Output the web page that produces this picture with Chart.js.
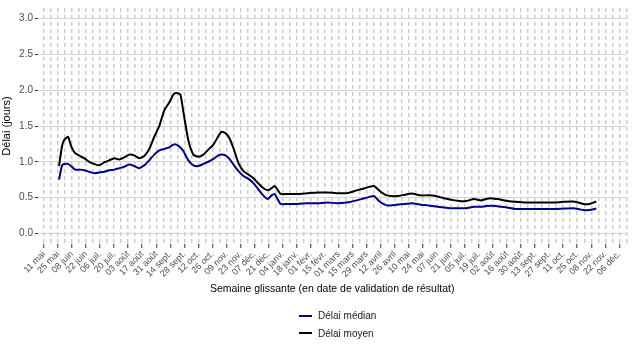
<!DOCTYPE html>
<html lang="fr">
<head>
<meta charset="utf-8">
<script src="https://cdn.jsdelivr.net/npm/chart.js@4.4.0/dist/chart.umd.min.js"></script>
<style>
  html, body { margin: 0; padding: 0; background: #fff; }
  #wrap { position: relative; width: 635px; height: 353px; }
  #legend { position: absolute; left: 299px; top: 307px; font: 10px "Liberation Sans", Arial, sans-serif; color: #1a1a1a; }
  .item { display: flex; align-items: center; height: 17.6px; }
  .swatch { width: 13px; height: 2px; margin-right: 6px; }
</style>
</head>
<body>
<div id="wrap">
  <canvas id="chart" width="635" height="353"></canvas>
  <div id="legend">
    <div class="item"><span class="swatch" style="background:#00008b"></span>Délai médian</div>
    <div class="item"><span class="swatch" style="background:#000"></span>Délai moyen</div>
  </div>
</div>
<script>
// jours depuis le 11 mai 2020
const days = [15, 18, 20, 24, 27, 31, 36, 40, 45, 50, 55, 60, 65, 70, 75, 80, 85, 90, 95, 100,
  105, 110, 115, 120, 125, 129, 132, 136, 139, 144, 149, 154, 159, 164, 169, 174, 177, 181, 185, 189,
  194, 199, 204, 209, 213, 218, 223, 227, 230, 233, 236, 243, 253, 263, 273, 283, 292, 302, 312, 320,
  329, 335, 342, 352, 360, 367, 372, 376, 383, 391, 399, 406, 414, 421, 429, 436, 441, 446, 451, 456,
  462, 470, 480, 490, 500, 510, 520, 528, 533, 538, 544, 551];

const delaiMoyen = [0.94, 1.22, 1.30, 1.35, 1.22, 1.12, 1.08, 1.05, 1.00, 0.97, 0.95, 0.99, 1.02, 1.05, 1.03, 1.06, 1.10, 1.09, 1.05, 1.08,
  1.18, 1.35, 1.50, 1.72, 1.83, 1.94, 1.96, 1.94, 1.70, 1.30, 1.10, 1.07, 1.10, 1.17, 1.24, 1.36, 1.42, 1.40, 1.33, 1.19,
  0.98, 0.87, 0.82, 0.77, 0.71, 0.64, 0.60, 0.63, 0.66, 0.61, 0.55, 0.55, 0.55, 0.56, 0.57, 0.57, 0.56, 0.56, 0.60, 0.63,
  0.66, 0.59, 0.53, 0.52, 0.54, 0.555, 0.54, 0.53, 0.53, 0.52, 0.49, 0.47, 0.45, 0.45, 0.48, 0.46, 0.48, 0.49, 0.48, 0.47,
  0.45, 0.44, 0.43, 0.43, 0.43, 0.43, 0.44, 0.445, 0.43, 0.41, 0.41, 0.445];

const delaiMedian = [0.75, 0.95, 0.97, 0.97, 0.94, 0.89, 0.89, 0.88, 0.86, 0.84, 0.85, 0.86, 0.88, 0.89, 0.91, 0.93, 0.96, 0.94, 0.91, 0.95,
  1.02, 1.10, 1.16, 1.18, 1.20, 1.24, 1.24, 1.20, 1.15, 1.02, 0.95, 0.94, 0.97, 1.00, 1.04, 1.09, 1.10, 1.09, 1.04, 0.96,
  0.87, 0.80, 0.76, 0.70, 0.63, 0.54, 0.48, 0.53, 0.55, 0.48, 0.41, 0.41, 0.41, 0.42, 0.42, 0.43, 0.42, 0.43, 0.46, 0.49,
  0.52, 0.44, 0.39, 0.40, 0.41, 0.42, 0.41, 0.40, 0.39, 0.375, 0.36, 0.35, 0.35, 0.35, 0.37, 0.37, 0.38, 0.385, 0.38, 0.37,
  0.36, 0.34, 0.34, 0.34, 0.34, 0.34, 0.345, 0.35, 0.34, 0.325, 0.325, 0.345];

// une étiquette toutes les deux semaines
const tickLabels = ['11 mai', '25 mai', '08 juin', '22 juin', '06 juil.', '20 juil.', '03 août', '17 août', '31 août',
  '14 sept.', '28 sept.', '12 oct.', '26 oct.', '09 nov.', '23 nov.', '07 déc.', '21 déc.', '04 janv.', '18 janv.',
  '01 févr.', '15 févr.', '01 mars', '15 mars', '29 mars', '12 avril', '26 avril', '10 mai', '24 mai', '07 juin',
  '21 juin', '05 juil.', '19 juil.', '02 août', '16 août', '30 août', '13 sept.', '27 sept.', '11 oct.', '25 oct.',
  '08 nov.', '22 nov.', '06 déc.'];

Chart.defaults.font.family = '"Liberation Sans", Arial, sans-serif';

function points(values) {
  return days.map((d, i) => ({ x: d, y: values[i] }));
}

const ctx = document.getElementById('chart').getContext('2d');
const chart = new Chart(ctx, {
  type: 'line',
  data: {
    datasets: [
      {
        label: 'Délai médian',
        data: points(delaiMedian),
        borderColor: '#00008b',
        borderWidth: 2,
        pointRadius: 0,
        tension: 0.2
      },
      {
        label: 'Délai moyen',
        data: points(delaiMoyen),
        borderColor: '#000000',
        borderWidth: 2,
        pointRadius: 0,
        tension: 0.2
      }
    ]
  },
  options: {
    responsive: false,
    animation: false,
    layout: { padding: { top: 4, right: 3, bottom: 58, left: 0 } },
    plugins: {
      legend: { display: false },
      tooltip: { enabled: false }
    },
    scales: {
      x: {
        type: 'linear',
        min: -6,
        max: 581,
        afterBuildTicks: function (scale) {
          const ticks = [];
          for (let d = 0; d <= 581; d += 7) ticks.push({ value: d });
          scale.ticks = ticks;
        },
        afterFit: function (scale) { scale.height = 51; },
        ticks: {
          autoSkip: false,
          maxRotation: 45,
          minRotation: 45,
          padding: 1,
          color: '#4d4d4d',
          font: { size: 9 },
          callback: v => (v % 14 === 0 ? tickLabels[v / 14] : '')
        },
        grid: {
          color: '#cccccc',
          lineWidth: 1.5,
          tickLength: 4,
          tickWidth: 1,
          tickColor: c => (c.tick && c.tick.value % 14 === 0 ? '#333333' : 'rgba(0,0,0,0)')
        },
        border: { display: false, dash: [4, 3] },
        title: {
          display: true,
          text: 'Semaine glissante (en date de validation de résultat)',
          color: '#000',
          font: { size: 10.5 },
          padding: { top: 2, bottom: 0 }
        }
      },
      y: {
        min: -0.15,
        max: 3.15,
        afterFit: function (scale) { scale.width = 38; },
        ticks: {
          stepSize: 0.5,
          includeBounds: false,
          color: '#4d4d4d',
          font: { size: 10 },
          padding: 2,
          callback: v => v.toFixed(1)
        },
        grid: { color: '#d4d4d4', lineWidth: 1, tickLength: 3, tickColor: '#333333' },
        border: { display: false },
        title: {
          display: true,
          text: 'Délai (jours)',
          color: '#000',
          font: { size: 11 },
          padding: { top: 0, bottom: 2 }
        }
      }
    }
  }
});
</script>
</body>
</html>
